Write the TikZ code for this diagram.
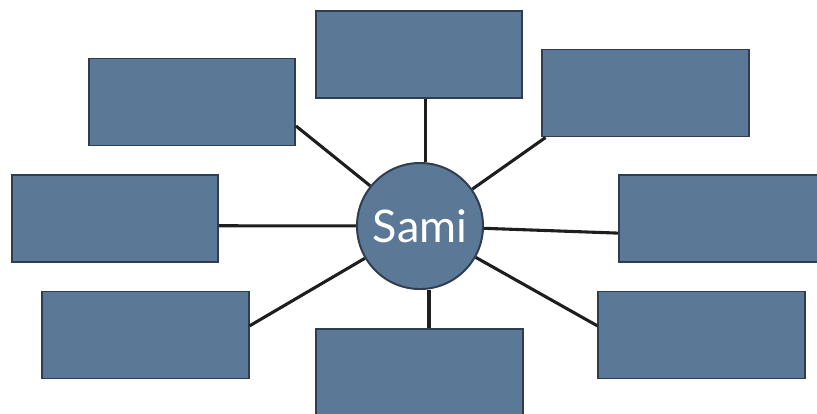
\documentclass[tikz,border=0pt]{standalone}
\usepackage{fontspec}
\setmainfont{Lato}
\usepackage{xcolor}
\definecolor{slate}{HTML}{5B7896}
\definecolor{slateline}{HTML}{2E3E50}
\definecolor{spoke}{HTML}{1E1E1E}

\begin{document}
\begin{tikzpicture}[x=0.025cm,y=-0.025cm]
  \useasboundingbox (0,0) rectangle (817,414);
    \tikzstyle{blank}=[rectangle,fill=slate,draw=slateline,line width=1.4pt,minimum width=5.15cm,minimum height=2.175cm,inner sep=0pt]
    \tikzstyle{hub}=[circle,fill=slate,draw=slateline,line width=1.4pt,minimum size=3.15cm,inner sep=0pt,text=white,font=\fontsize{32}{36}\selectfont]
    \tikzstyle{spokeline}=[draw=spoke,line width=2.2pt]

  \node (sami) at (420,226) [hub] {Sami};

    \node (tc) at (419,54.5) [blank] {};
    \node (tl) at (192,102) [blank] {};
    \node (tr) at (645.5,93) [blank] {};
    \node (ml) at (115,218.5) [blank] {};
    \node (mr) at (722,218.5) [blank] {};
    \node (bl) at (145.5,335) [blank] {};
    \node (bc) at (419.5,372.5) [blank] {};
    \node (br) at (701.5,335) [blank] {};

\path[spokeline] (tc.-82) edge (tc.-82 |- sami.north);
\path[spokeline] (sami) edge (tl.-13);
\path[spokeline] (sami) edge (tr.-156);
\path[spokeline] (sami) edge (ml.-4);
\path[spokeline] (sami) edge (mr.-172);
\path[spokeline] (sami) edge (bl.5);
\path[spokeline] (bc.78) edge (bc.78 |- sami.south);
\path[spokeline] (sami) edge (br.175);
    \end{tikzpicture}
\end{document}
